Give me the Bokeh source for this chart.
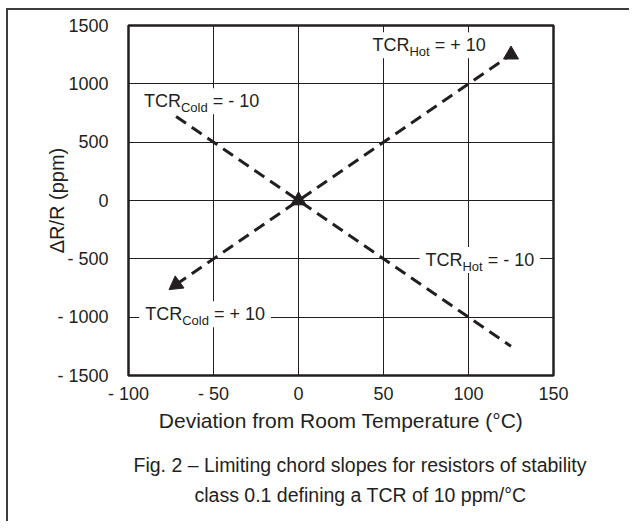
from bokeh.plotting import figure
from bokeh.models import FixedTicker, Range1d, Title
from bokeh.core.properties import value
from bokeh.embed import file_html
from bokeh.resources import INLINE

FONT = "Liberation Sans"
INK = "#231f20"

# ---- axes ----
x_ticks = [-100, -50, 0, 50, 100, 150]
x_tick_labels = ["- 100", "- 50", "0", "50", "100", "150"]
y_ticks = [-1500, -1000, -500, 0, 500, 1000, 1500]
y_tick_labels = ["- 1500", "- 1000", "- 500", "0", "500", "1000", "1500"]

# ---- chord lines (deviation °C, dR/R ppm) ----
rise_x = [-72, 0, 125]      # TCR_Cold = +10 / TCR_Hot = +10
rise_y = [-720, 0, 1250]
fall_x = [-72, 0, 125]      # TCR_Cold = -10 / TCR_Hot = -10
fall_y = [720, 0, -1250]

# ---- arrow heads ----
head_x = [125, 0, -72]
head_y = [1250, 0, -720]
head_angle = [0.0, 0.0, 2.2]

# ---- annotations ----
lab_main = ["TCR", "TCR", "TCR", "TCR"]
lab_sub = ["Hot", "Cold", "Hot", "Cold"]
lab_tail = ["\u00a0= + 10", "\u00a0= - 10", "\u00a0= - 10", "\u00a0= + 10"]
lab_x = [43.5, -90.9, 74.7, -90.2]
lab_y = [1330, 850, -510, -975]

X_LABEL = "Deviation from Room Temperature (°C)"
Y_LABEL = "ΔR/R (ppm)"
CAPTION_1 = "Fig. 2 – Limiting chord slopes for resistors of stability"
CAPTION_2 = "class 0.1 defining a TCR of 10 ppm/°C"

# layout (pixels)
W, H = 623, 513
ML, MT = 120, 15
FRAME_W, FRAME_H = 425, 350
MR = W - ML - FRAME_W
MB = H - MT - FRAME_H
MAIN_FS, SUB_FS = 18, 13

ADV = {'T': 611, 'C': 722, 'R': 722, 'H': 722, 'o': 556, 't': 278, 'l': 222,
       'd': 556, ' ': 278, '\u00a0': 278, '=': 584, '+': 584, '-': 333,
       '1': 556, '0': 556}


def tw(s, size):
    return sum(ADV[c] for c in s) / 1000.0 * size


x_lo, x_hi, y_lo, y_hi = -100, 150, -1500, 1500
px_per_x = FRAME_W / (x_hi - x_lo)

p = figure(width=W, height=H, output_backend="svg", toolbar_location=None,
           x_range=Range1d(x_lo, x_hi), y_range=Range1d(y_lo, y_hi),
           min_border_left=ML, min_border_right=MR,
           min_border_top=MT, min_border_bottom=MB,
           background_fill_color="white", border_fill_color="white")
# outer frame of the figure: only its left and top edges are in view
p.styles = {"margin-left": "8px", "margin-top": "10px",
            "box-shadow": "-2px -2px 0 0 #3c3c3c"}
p.outline_line_color = INK
p.outline_line_width = 2.5

for ax in (p.xaxis[0], p.yaxis[0]):
    ax.axis_line_color = None
    ax.major_tick_line_color = None
    ax.minor_tick_line_color = None
    ax.major_label_text_font = FONT
    ax.major_label_text_font_size = f"{MAIN_FS}px"
    ax.major_label_text_color = INK
    ax.axis_label_text_font = FONT
    ax.axis_label_text_font_style = "normal"
    ax.axis_label_text_color = INK

p.xaxis.ticker = FixedTicker(ticks=x_ticks)
p.xaxis.major_label_overrides = dict(zip(x_ticks, x_tick_labels))
p.yaxis.ticker = FixedTicker(ticks=y_ticks)
p.yaxis.major_label_overrides = dict(zip(y_ticks, y_tick_labels))
p.xaxis.major_label_standoff = 2
p.yaxis.major_label_standoff = 14
p.xaxis.axis_label = X_LABEL
p.xaxis.axis_label_text_font_size = "21px"
p.xaxis.axis_label_standoff = 2
p.yaxis.axis_label = Y_LABEL
p.yaxis.axis_label_text_font_size = "20px"
p.yaxis.axis_label_standoff = -14

p.xgrid.ticker = FixedTicker(ticks=x_ticks)
p.ygrid.ticker = FixedTicker(ticks=y_ticks)
for g in (p.xgrid[0], p.ygrid[0]):
    g.grid_line_color = INK
    g.grid_line_width = 1

# white boxes behind the annotations
for mx, sx, tx, x0, y0 in zip(lab_main, lab_sub, lab_tail, lab_x, lab_y):
    wpx = tw(mx, MAIN_FS) + tw(sx, SUB_FS) + tw(tx, MAIN_FS)
    p.rect(x=[x0 + (wpx / 2) / px_per_x], y=[y0], width=wpx + 12, height=26,
           width_units="screen", height_units="screen",
           fill_color="white", line_color=None)

# chord lines
p.line(rise_x, rise_y, line_color=INK, line_width=3, line_dash="12 7")
p.line(fall_x, fall_y, line_color=INK, line_width=3, line_dash="12 7")
p.scatter(head_x, head_y, marker="triangle", size=15, angle=head_angle,
          fill_color=INK, line_color=INK)

# labels with subscripts
sub_off = [tw(m, MAIN_FS) for m in lab_main]
tail_off = [tw(m, MAIN_FS) + tw(s, SUB_FS) for m, s in zip(lab_main, lab_sub)]
common = dict(text_font=value(FONT), text_color=INK, text_align="left",
              text_baseline="middle")
p.text(x=lab_x, y=lab_y, text=lab_main, text_font_size=value(f"{MAIN_FS}px"), **common)
p.text(x=lab_x, y=lab_y, text=lab_sub, x_offset=sub_off, y_offset=6,
       text_font_size=value(f"{SUB_FS}px"), **common)
p.text(x=lab_x, y=lab_y, text=lab_tail, x_offset=tail_off,
       text_font_size=value(f"{MAIN_FS}px"), **common)

# caption (two lines)
for txt, so, off in ((CAPTION_1, 34, 5), (CAPTION_2, -21, 66)):
    t = Title(text=txt, align="left", offset=off, text_font=FONT,
              text_font_size="19.5px", text_font_style="normal",
              text_color=INK, standoff=so)
    p.add_layout(t, "below")

open("out.html", "w").write(file_html(p, INLINE))
